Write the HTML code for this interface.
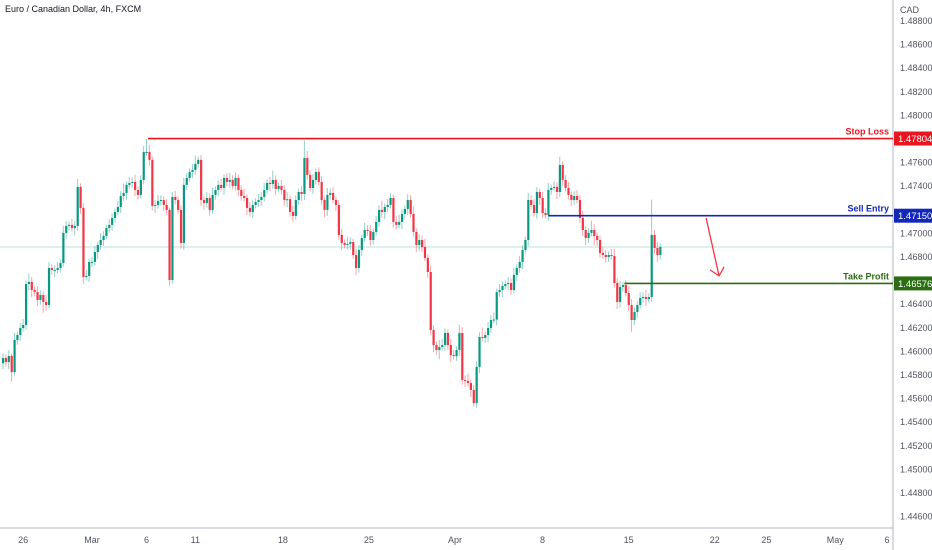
<!DOCTYPE html>
<html><head><meta charset="utf-8"><style>
html,body{margin:0;padding:0;background:#fff;}
svg{display:block;font-family:"Liberation Sans",sans-serif;}
</style></head><body>
<svg id="chart" width="932" height="550" viewBox="0 0 932 550" xmlns="http://www.w3.org/2000/svg">
<rect x="0" y="0" width="932" height="550" fill="#fff"/>
<text x="5" y="12" font-size="9" fill="#131722">Euro / Canadian Dollar, 4h, FXCM</text>
<text x="900" y="13" font-size="9" fill="#50535e">CAD</text>
<g id="grid"></g>
<g id="candles"></g>
<g id="levels"></g>
<g id="yaxis"></g>
<g id="xaxis"></g>
</svg>
<script>
const closes=[1.45944,1.45910,1.45961,1.45825,1.46097,1.46139,1.46198,1.46224,1.46571,1.46588,
1.46520,1.46503,1.46436,1.46478,1.46419,1.46393,1.46707,1.46690,1.46690,1.46707,
1.46749,1.47004,1.47063,1.47072,1.47046,1.47063,1.47394,1.47216,1.46631,1.46639,
1.46758,1.46758,1.46842,1.46902,1.46944,1.46978,1.47046,1.47072,1.47131,1.47182,
1.47224,1.47317,1.47343,1.47411,1.47428,1.47436,1.47368,1.47326,1.47453,1.47690,
1.47690,1.47623,1.47233,1.47241,1.47275,1.47283,1.47241,1.47199,1.46605,1.47309,
1.47283,1.47199,1.46919,1.47411,1.47470,1.47521,1.47538,1.47589,1.47623,1.47283,
1.47258,1.47300,1.47199,1.47326,1.47368,1.47411,1.47385,1.47470,1.47436,1.47453,
1.47402,1.47470,1.47368,1.47317,1.47300,1.47216,1.47182,1.47241,1.47267,1.47283,
1.47309,1.47368,1.47428,1.47419,1.47453,1.47377,1.47402,1.47368,1.47283,1.47290,
1.47182,1.47148,1.47283,1.47351,1.47334,1.47639,1.47496,1.47385,1.47453,1.47521,
1.47436,1.47283,1.47199,1.47326,1.47343,1.47283,1.47241,1.46987,1.46919,1.46902,
1.46910,1.46927,1.46817,1.46707,1.46859,1.46961,1.47029,1.47020,1.46944,1.47012,
1.47097,1.47199,1.47182,1.47224,1.47241,1.47300,1.47097,1.47072,1.47097,1.47165,
1.47207,1.47283,1.47165,1.47012,1.46902,1.46944,1.46885,1.46792,1.46673,1.46181,
1.46054,1.46012,1.46037,1.46054,1.46156,1.46054,1.45969,1.45960,1.46012,1.46156,
1.45758,1.45750,1.45732,1.45673,1.45563,1.45868,1.46122,1.46114,1.46139,1.46198,
1.46266,1.46270,1.46503,1.46520,1.46554,1.46571,1.46580,1.46520,1.46648,1.46707,
1.46758,1.46859,1.46944,1.47283,1.47241,1.47173,1.47351,1.47300,1.47173,1.47156,
1.47368,1.47385,1.47394,1.47351,1.47580,1.47453,1.47385,1.47326,1.47283,1.47317,
1.47283,1.47131,1.47029,1.46961,1.47004,1.47029,1.46978,1.46944,1.46834,1.46817,
1.46800,1.46817,1.46809,1.46580,1.46419,1.46546,1.46563,1.46495,1.46393,1.46266,
1.46334,1.46393,1.46453,1.46461,1.46444,1.46461,1.46987,1.46876,1.46817,1.46885];
const firstOpen=1.45900;
const wickUpPips=[4,3,5,2,6,3,4,5,3,7, 4,3,5,4,3,6,5,3,4,5, 3,6,4,3,5,4,7,3,4,5, 3,4,5,3,6,4,3,5,4,3,
5,4,8,3,5,4,6,3,4,5, 11,6,3,4,5,4,3,5,2,4, 5,3,4,6,4,3,5,7,3,4, 3,5,4,6,3,4,5,3,4,6,
4,5,3,4,6,3,5,4,3,5, 4,6,3,5,8,4,3,5,4,6, 3,5,4,3,5,15,6,4,5,3, 4,5,3,6,4,5,3,4,5,3,
6,4,3,5,4,3,6,4,5,3, 5,4,8,3,5,4,3,5,6,4, 3,5,4,6,3,5,4,7,3,5, 4,3,6,5,4,3,5,4,3,7,
5,4,6,3,4,5,4,8,3,5, 4,6,3,5,4,3,5,4,6,3, 5,4,3,6,4,5,4,3,5,4, 6,3,5,4,7,3,4,5,3,4,
5,4,6,3,4,8,5,3,4,5, 4,3,5,6,4,5,3,4,6,5, 4,3,5,4,6,3,30,4,5,3];
const wickDnPips=[5,4,6,8,3,4,5,3,4,5, 6,3,5,4,9,5,3,4,6,3, 4,3,5,4,3,6,4,5,6,3, 5,4,3,6,4,5,3,4,5,4,
3,5,4,6,3,4,5,4,3,4, 3,5,4,6,3,4,5,4,5,3, 4,3,5,6,4,3,5,4,3,5, 6,4,5,3,4,5,3,6,4,5,
3,4,5,4,3,6,4,5,3,4, 5,4,3,6,4,5,3,4,5,6, 4,5,3,4,6,5,4,3,5,4, 3,4,6,5,4,3,5,4,6,3,
4,5,3,6,4,5,3,4,5,4, 3,4,5,6,4,3,5,4,3,6, 4,5,3,4,6,5,4,3,5,4, 6,4,8,3,5,4,6,3,4,5,
4,5,3,6,3,4,5,3,4,6, 4,3,5,4,6,3,5,4,3,5, 4,6,3,5,4,3,5,6,4,3, 5,4,3,6,4,5,3,4,5,4,
3,4,5,6,4,3,8,5,4,3, 5,4,3,4,6,5,4,3,5,10, 4,5,3,4,6,3,4,5,6,4];
const priceTicks=[1.488,1.486,1.484,1.482,1.480,1.476,1.474,1.470,1.468,1.464,1.462,1.460,1.458,1.456,1.454,1.452,1.450,1.448,1.446];
const timeLabels=["26","Mar","6","11","18","25","Apr","8","15","22","25","May","6"];
const timeIdx=[7,31,50,67,97.5,127.5,157.5,188,218,248,266,290,308];
const stopLoss=1.47804, sellEntry=1.47150, takeProfit=1.46576, lastPrice=1.46885;
const levelStart={sl:50.5,se:190,tp:216.5};
const arrowFrom={i:245,p:1.4713}, arrowTo={i:249.5,p:1.4664};

const NS="http://www.w3.org/2000/svg";
const plotR=893, axisY=528;
const yOf=p=>21+(1.488-p)*11800;
const xOf=i=>3+i*2.87;
function mk(tag,attrs,parent){const e=document.createElementNS(NS,tag);for(const k in attrs)e.setAttribute(k,attrs[k]);parent.appendChild(e);return e;}
const G=document.getElementById('grid'),C=document.getElementById('candles'),L=document.getElementById('levels'),Y=document.getElementById('yaxis'),X=document.getElementById('xaxis');

let ab=mk('line',{x1:plotR,y1:0,x2:plotR,y2:550,stroke:'#b2b5be','stroke-width':1},G);


let bb=mk('line',{x1:0,y1:axisY,x2:plotR,y2:axisY,stroke:'#b2b5be','stroke-width':1},G);


let lp=mk('line',{x1:0,y1:yOf(lastPrice),x2:plotR,y2:yOf(lastPrice),stroke:'#b7e3dc','stroke-width':1},G);



let prev=firstOpen;
closes.forEach((c,i)=>{
  const o=prev; prev=c;
  const up=c>=o, col=up?'#089981':'#f23645';
  const hi=Math.max(o,c)+wickUpPips[i]*0.0001, lo=Math.min(o,c)-wickDnPips[i]*0.0001;
  const x=xOf(i);
  const w=mk('line',{x1:x,y1:yOf(hi),x2:x,y2:yOf(lo),stroke:col,'stroke-width':1,'stroke-opacity':0.45},C);
  
  
  const t=yOf(Math.max(o,c)), b=yOf(Math.min(o,c));
  const r=mk('rect',{x:x-1,y:t,width:2.2,height:Math.max(1,b-t),fill:col},C);
  
  
});

function level(p,start,col,label,name){
  const y=yOf(p);
  const l=mk('line',{x1:xOf(start),y1:y,x2:plotR,y2:y,stroke:col,'stroke-width':1.6},L);
  
  
  const t=mk('text',{x:889,y:y-4,'font-size':9,'font-weight':'bold',fill:col,'text-anchor':'end'},L);
  t.textContent=label;
  
  
  const r=mk('rect',{x:plotR+1,y:y-7,width:39,height:14,fill:col},Y);
  
  
  const pt=mk('text',{x:plotR+5,y:y+3.5,'font-size':9.5,fill:'#fff'},Y);
  pt.textContent=p.toFixed(5);
  
  
}
level(stopLoss,levelStart.sl,'#e8161f','Stop Loss','stop-loss');
level(sellEntry,levelStart.se,'#1428b8','Sell Entry','sell-entry');
level(takeProfit,levelStart.tp,'#2b6d12','Take Profit','take-profit');

const ax1=xOf(arrowFrom.i),ay1=yOf(arrowFrom.p),ax2=xOf(arrowTo.i),ay2=yOf(arrowTo.p);
let ar=mk('line',{x1:ax1,y1:ay1,x2:ax2,y2:ay2,stroke:'#f23645','stroke-width':1.3},L);


let ah=mk('polyline',{points:`${ax2-9},${ay2-6} ${ax2},${ay2} ${ax2+5},${ay2-9}`,fill:'none',stroke:'#f23645','stroke-width':1.3},L);



priceTicks.forEach(p=>{
  const t=mk('text',{x:plotR+7,y:yOf(p)+3,'font-size':9,fill:'#50535e'},Y);
  t.textContent=p.toFixed(5);
  
  
});
timeLabels.forEach((s,k)=>{
  const t=mk('text',{x:xOf(timeIdx[k]),y:543,'font-size':9,fill:'#50535e','text-anchor':'middle'},X);
  t.textContent=s;
  
  
});
</script>
</body></html>
